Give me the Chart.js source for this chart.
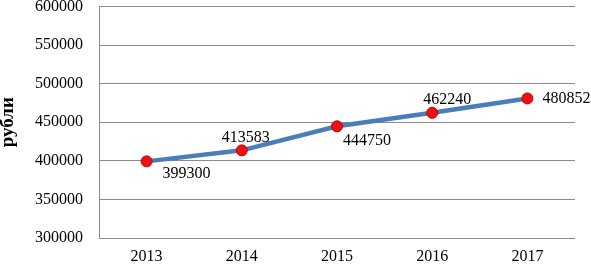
<!DOCTYPE html>
<html>
<head>
<meta charset="utf-8">
<script src="https://cdn.jsdelivr.net/npm/chart.js@4"></script>
<style>
  html, body { margin: 0; padding: 0; background: #fff; }
  canvas { display: block; }
</style>
</head>
<body>
<canvas id="chart" width="591" height="265"></canvas>
<script>
const years = ['2013', '2014', '2015', '2016', '2017'];
const salary = [399300, 413583, 444750, 462240, 480852];
const yTicks = [300000, 350000, 400000, 450000, 500000, 550000, 600000];
const yTitle = 'рубли';

const fontFamily = '"Liberation Serif", "Times New Roman", serif';

// value labels drawn next to each point
const labelPlugin = {
  id: 'pointLabels',
  afterDatasetsDraw(chart) {
    const ctx = chart.ctx;
    const meta = chart.getDatasetMeta(0);
    // offsets of label centre from the point
    const offs = [[40, 12], [4, -13], [30, 14], [15, -13], [39, 0]];
    ctx.save();
    ctx.font = '16px ' + fontFamily;
    ctx.fillStyle = '#000';
    ctx.textAlign = 'center';
    ctx.textBaseline = 'middle';
    meta.data.forEach((pt, i) => {
      ctx.fillText(String(salary[i]), pt.x + offs[i][0], pt.y + offs[i][1]);
    });
    ctx.restore();
  }
};

new Chart(document.getElementById('chart').getContext('2d'), {
  type: 'line',
  data: {
    labels: years,
    datasets: [{
      data: salary,
      borderColor: '#4a7ebb',
      borderWidth: 4.5,
      pointRadius: 5.5,
      pointBackgroundColor: '#ee1111',
      pointBorderColor: '#c00000',
      pointBorderWidth: 1,
      tension: 0
    }]
  },
  options: {
    responsive: false,
    animation: false,
    layout: { padding: { left: 0, right: 16, top: 6, bottom: 0 } },
    plugins: {
      legend: { display: false },
      tooltip: { enabled: false }
    },
    scales: {
      x: {
        offset: true,
        grid: { display: false, drawTicks: false },
        border: { display: false },
        afterFit(scale) {
          scale.height = 27;
          scale.paddingLeft = 0;
          scale.paddingRight = 0;
        },
        ticks: { color: '#000', padding: 11, font: { family: fontFamily, size: 16, lineHeight: 1 } }
      },
      y: {
        min: 300000,
        max: 600000,
        afterBuildTicks(scale) {
          scale.ticks = yTicks.map(v => ({ value: v }));
        },
        afterFit(scale) {
          scale.width = 99;
          scale.paddingTop = 0;
          scale.paddingBottom = 0;
        },
        grid: { color: '#8c8c8c', lineWidth: 1, drawTicks: false },
        border: { display: true, color: '#8c8c8c', width: 1 },
        ticks: {
          color: '#000',
          padding: 16,
          font: { family: fontFamily, size: 16 },
          callback: v => String(v)
        },
        title: {
          display: true,
          text: yTitle,
          color: '#000',
          padding: { top: -3, bottom: 0 },
          font: { family: fontFamily, size: 19, weight: 'bold' }
        }
      }
    }
  },
  plugins: [labelPlugin]
});
</script>
</body>
</html>
